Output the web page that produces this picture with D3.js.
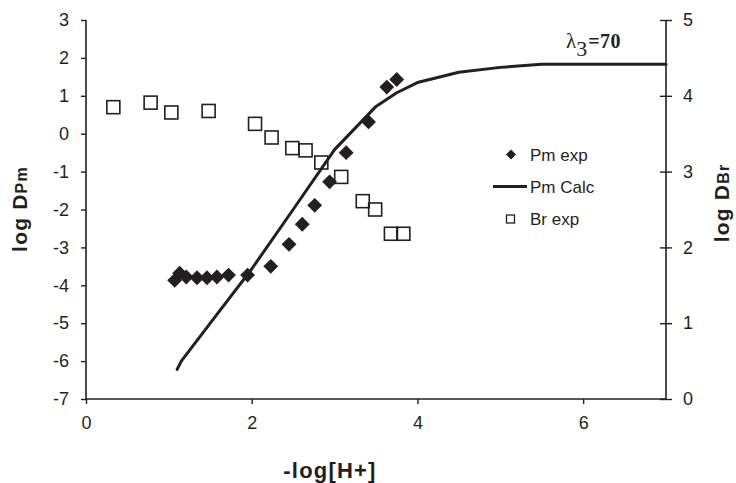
<!DOCTYPE html>
<html>
<head>
<meta charset="utf-8">
<script src="https://cdn.jsdelivr.net/npm/d3@7"></script>
<style>
  html, body { margin: 0; padding: 0; background: #fff; }
  svg { display: block; }
</style>
</head>
<body>
<svg id="chart" width="736" height="483"></svg>
<script>
// ---- data ----
const xTicks = [0, 2, 4, 6];
const yLeftTicks = [-7, -6, -5, -4, -3, -2, -1, 0, 1, 2, 3];
const yRightTicks = [0, 1, 2, 3, 4, 5];

// Pm exp (left axis)
const pmExpX = [1.07, 1.13, 1.21, 1.34, 1.46, 1.58, 1.72, 1.95, 2.23, 2.45, 2.61, 2.76, 2.94, 3.14, 3.41, 3.63, 3.75];
const pmExpY = [-3.87, -3.68, -3.78, -3.80, -3.80, -3.78, -3.73, -3.73, -3.50, -2.92, -2.39, -1.89, -1.27, -0.50, 0.31, 1.23, 1.43];

// Pm Calc (left axis)
const pmCalcX = [1.10, 1.15, 1.5, 2.0, 2.5, 3.0, 3.5, 3.75, 4.0, 4.5, 5.0, 5.5, 7.0];
const pmCalcY = [-6.22, -6.0, -5.0, -3.57, -2.0, -0.42, 0.72, 1.08, 1.35, 1.62, 1.75, 1.83, 1.83];

// Br exp (right axis)
const brExpX = [0.33, 0.78, 1.03, 1.48, 2.04, 2.24, 2.49, 2.65, 2.84, 3.08, 3.34, 3.49, 3.68, 3.83];
const brExpY = [3.85, 3.91, 3.78, 3.80, 3.63, 3.45, 3.31, 3.28, 3.12, 2.93, 2.61, 2.50, 2.18, 2.18];

const legendLabels = ["Pm exp", "Pm Calc", "Br exp"];

// ---- layout ----
const svg = d3.select("#chart");
const mLeft = 86, mRight = 666, mTop = 20, mBottom = 399;
const ink = "#231f20";
const sans = "Arial, 'Liberation Sans', Helvetica, sans-serif";
const serif = "'Liberation Serif', 'Times New Roman', Times, serif";

const x = d3.scaleLinear().domain([0, 7]).range([mLeft, mRight]);
const yL = d3.scaleLinear().domain([-7, 3]).range([mBottom, mTop]);
const yR = d3.scaleLinear().domain([0, 5]).range([mBottom, mTop]);

const fmt = d => String(d);

// axes
const gx = svg.append("g").attr("transform", `translate(0,${mBottom})`)
  .call(d3.axisBottom(x).tickValues(xTicks).tickFormat(fmt).tickSizeOuter(0).tickSize(5).tickPadding(12));
const gyl = svg.append("g").attr("transform", `translate(${mLeft},0)`)
  .call(d3.axisLeft(yL).tickValues(yLeftTicks).tickFormat(fmt).tickSizeOuter(0).tickSize(5).tickPadding(12));
const gyr = svg.append("g").attr("transform", `translate(${mRight},0)`)
  .call(d3.axisRight(yR).tickValues(yRightTicks).tickFormat(fmt).tickSizeOuter(0).tickSize(6).tickPadding(11));
gyr.selectAll(".tick line").attr("x1", -6).attr("x2", 6);

[gx, gyl, gyr].forEach(g => {
  g.select(".domain").attr("stroke", ink).attr("stroke-width", 1.6);
  g.selectAll(".tick line").attr("stroke", ink).attr("stroke-width", 1.4);
  g.selectAll(".tick text").style("font-size", "18px").style("fill", ink)
    .style("font-family", sans);
});
gx.select(".domain").attr("d", `M${mLeft},0H${mRight}`);
gyl.select(".domain").attr("d", `M0,${mTop}V${mBottom}`);
gyr.select(".domain").attr("d", `M0,${mTop}V${mBottom}`);

// Pm Calc line
const line = d3.line().x(d => x(d[0])).y(d => yL(d[1])).curve(d3.curveLinear);
svg.append("path")
  .datum(pmCalcX.map((v, i) => [v, pmCalcY[i]]))
  .attr("d", line)
  .attr("fill", "none").attr("stroke", ink).attr("stroke-width", 3)
  .attr("stroke-linecap", "round").attr("stroke-linejoin", "round");

// Br exp squares
const sq = 13;
svg.append("g").selectAll("rect")
  .data(brExpX.map((v, i) => [v, brExpY[i]]))
  .join("rect")
  .attr("x", d => x(d[0]) - sq / 2).attr("y", d => yR(d[1]) - sq / 2)
  .attr("width", sq).attr("height", sq)
  .attr("fill", "none").attr("stroke", ink).attr("stroke-width", 1.6);

// Pm exp diamonds
const diamond = d3.symbol().type(d3.symbolSquare).size(110);
svg.append("g").selectAll("path")
  .data(pmExpX.map((v, i) => [v, pmExpY[i]]))
  .join("path")
  .attr("d", diamond)
  .attr("transform", d => `translate(${x(d[0])},${yL(d[1])}) rotate(45)`)
  .attr("fill", ink);

// legend
const lg = svg.append("g");
lg.append("path").attr("d", d3.symbol().type(d3.symbolSquare).size(50))
  .attr("transform", "translate(511,154.5) rotate(45)").attr("fill", ink);
lg.append("line").attr("x1", 493).attr("x2", 527).attr("y1", 186.5).attr("y2", 186.5)
  .attr("stroke", ink).attr("stroke-width", 3);
lg.append("rect").attr("x", 506.5).attr("y", 215).attr("width", 8).attr("height", 8)
  .attr("fill", "none").attr("stroke", ink).attr("stroke-width", 1.3);
const legendY = [154.5, 186.5, 219];
lg.selectAll("text").data(legendLabels).join("text")
  .attr("x", 530).attr("y", (d, i) => legendY[i]).attr("dy", "0.36em")
  .style("font-family", sans).style("font-size", "17px").style("fill", ink)
  .text(d => d);

// lambda annotation
const lam = svg.append("text").attr("x", 566).attr("y", 48)
  .style("font-family", serif).style("font-size", "21px").style("fill", ink);
lam.append("tspan").text("λ");
lam.append("tspan").attr("dy", 8).style("font-size", "22px").text("3");
lam.append("tspan").attr("dy", -8).attr("dx", 1).style("font-weight", "bold")
  .style("font-size", "20px").style("letter-spacing", "0.5px").text("=70");

// axis titles
svg.append("text").attr("x", 330).attr("y", 478).attr("text-anchor", "middle")
  .style("font-family", sans).style("font-size", "22px").style("font-weight", "bold")
  .style("letter-spacing", "1.2px").style("fill", ink)
  .text("-log[H+]");

const tl = svg.append("text").attr("transform", "translate(27,209) rotate(-90)")
  .attr("text-anchor", "middle")
  .style("font-family", sans).style("font-size", "21px").style("font-weight", "bold")
  .style("letter-spacing", "1.2px").style("fill", ink);
tl.append("tspan").text("log D");
tl.append("tspan").style("font-size", "16px").text("Pm");

const tr = svg.append("text").attr("transform", "translate(729,203) rotate(-90)")
  .attr("text-anchor", "middle")
  .style("font-family", sans).style("font-size", "21px").style("font-weight", "bold")
  .style("letter-spacing", "1.2px").style("fill", ink);
tr.append("tspan").text("log D");
tr.append("tspan").style("font-size", "16px").text("Br");
</script>
</body>
</html>
